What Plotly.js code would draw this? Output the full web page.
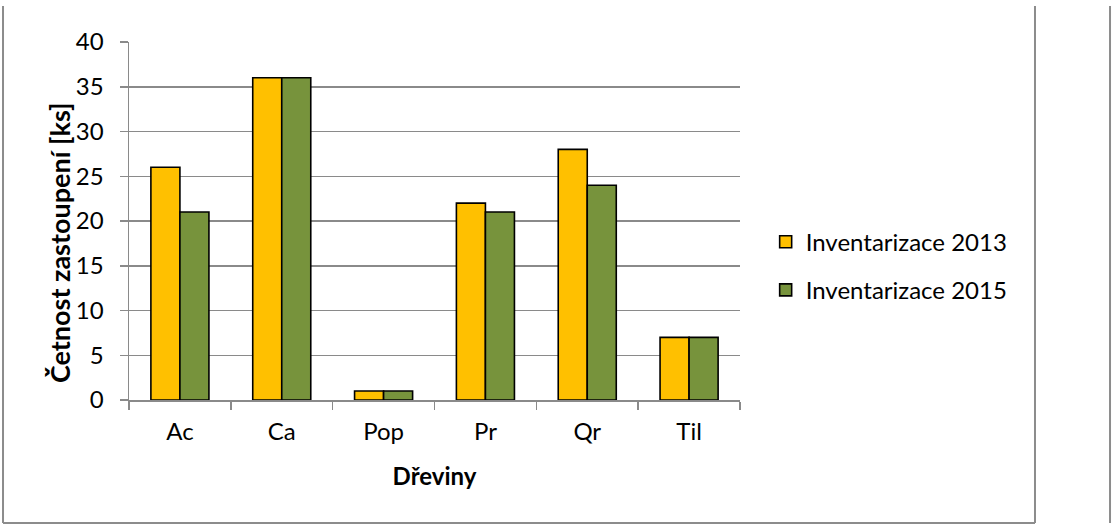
<!DOCTYPE html>
<html>
<head>
<meta charset="utf-8">
<script src="https://cdn.plot.ly/plotly-3.0.1.min.js"></script>
<style>html,body{margin:0;padding:0;background:#fff;}#chart{width:1112px;height:524px;}</style>
</head>
<body>
<div id="chart"></div>
<script>
const categories = ["Ac", "Ca", "Pop", "Pr", "Qr", "Til"];
const series2013 = [26, 36, 1, 22, 28, 7];
const series2015 = [21, 36, 1, 21, 24, 7];
const seriesNames = ["Inventarizace 2013", "Inventarizace 2015"];
const yTickVals = [0, 5, 10, 15, 20, 25, 30, 35, 40];
const xTitle = "Dřeviny";
const yTitle = "Četnost zastoupení [ks]";

const FONT = "Lato, 'Open Sans', sans-serif";
const grid = "#8a8a8a";

const traces = [
  {type: "bar", name: seriesNames[0], x: categories, y: series2013, legendgroup: "a",
   marker: {color: "#FFC000", line: {color: "#000", width: 1.6}}},
  {type: "bar", name: seriesNames[1], x: categories, y: series2015, legendgroup: "b",
   marker: {color: "#77933C", line: {color: "#000", width: 1.6}}}
];

function vline(x, y0, y1) {
  return {type: "line", xref: "paper", yref: "paper", x0: x, x1: x, y0: y0, y1: y1,
          line: {color: "#8c8c8c", width: 2}};
}
function hline(y, x0, x1) {
  return {type: "line", xref: "paper", yref: "paper", x0: x0, x1: x1, y0: y, y1: y,
          line: {color: "#8c8c8c", width: 2}};
}

const layout = {
  width: 1112, height: 524,
  margin: {l: 129, r: 372, t: 42, b: 124},
  paper_bgcolor: "#fff", plot_bgcolor: "#fff",
  font: {family: FONT, size: 24, color: "#000"},
  barmode: "group", bargap: 0.43, bargroupgap: 0,
  showlegend: true,
  legend: {x: 1.042, y: 0.374, xanchor: "left", yanchor: "middle",
           traceorder: "grouped", tracegroupgap: 14,
           font: {family: FONT, size: 24, color: "#000"}, bgcolor: "rgba(0,0,0,0)"},
  xaxis: {type: "category", tickson: "boundaries", ticks: "outside", ticklen: 8,
          tickcolor: grid, tickwidth: 1.5, showline: true, linecolor: grid, linewidth: 1.5,
          showgrid: false, zeroline: false, ticklabelstandoff: 10,
          tickfont: {family: FONT, size: 24},
          title: {text: "<b>" + xTitle + "</b>", font: {family: FONT, size: 24}, standoff: 24}},
  yaxis: {range: [0, 40], tickvals: yTickVals, ticks: "outside", ticklen: 8,
          tickcolor: grid, tickwidth: 1.5, showline: true, linecolor: grid, linewidth: 1.5,
          showgrid: true, gridcolor: grid, gridwidth: 1.5, zeroline: false, ticklabelstandoff: 11,
          tickfont: {family: FONT, size: 24}},
  annotations: [
    {text: "<b>" + yTitle + "</b>", xref: "paper", yref: "paper", x: -0.1146, y: 0.441,
     xanchor: "center", yanchor: "middle", textangle: -90, showarrow: false,
     font: {family: FONT, size: 27, color: "#000"}}
  ],
  shapes: [
    vline(-0.2062, -0.3436, 1.1006),
    vline(1.4828, -0.3436, 1.1006),
    hline(-0.3436, -0.2062, 1.4828),
    vline(1.6056, -0.3436, 1.1006)
  ]
};

Plotly.newPlot("chart", traces, layout, {displayModeBar: false, staticPlot: true});
</script>
</body>
</html>
